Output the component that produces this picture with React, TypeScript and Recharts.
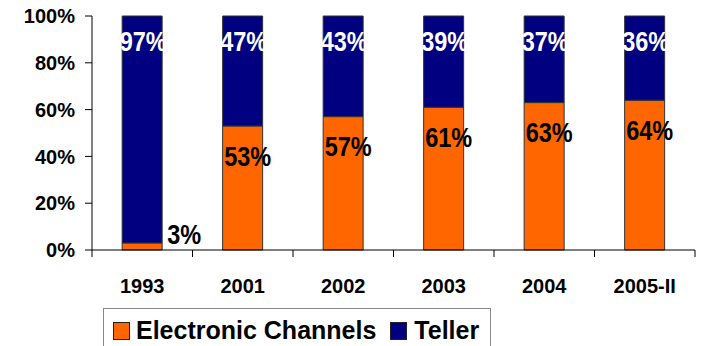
import { BarChart, Bar, XAxis, YAxis, LabelList } from 'recharts';

const years = ['1993', '2001', '2002', '2003', '2004', '2005-II'];
const electronic = [3, 53, 57, 61, 63, 64];
const teller = [97, 47, 43, 39, 37, 36];
const yTicks = [0, 20, 40, 60, 80, 100];

const ORANGE = '#FF6600';
const NAVY = '#000080';
const FONT = '"Liberation Sans", Arial, sans-serif';

const W = 701;
const H = 346;
const LEFT = 92;
const RIGHT = 6;
const BAND = (W - LEFT - RIGHT) / years.length;

const data = years.map((year, i) => ({
  year,
  electronic: electronic[i],
  teller: teller[i],
}));

// condensed bold label, squeezed horizontally like the original
function Narrow({ cx, cy, anchor, fill, children }: any) {
  return (
    <text transform={`translate(${cx},${cy}) scale(0.84,1)`} textAnchor={anchor} dominantBaseline="central"
      fontFamily={FONT} fontWeight="bold" fontSize={28} fill={fill}>
      {children}
    </text>
  );
}

function XTick(props: any) {
  const { x, y, payload, index } = props;
  return (
    <g>
      <line x1={x - BAND / 2} x2={x - BAND / 2} y1={y} y2={y + 7} stroke="#000" />
      {index === years.length - 1 && (
        <line x1={x + BAND / 2} x2={x + BAND / 2} y1={y} y2={y + 7} stroke="#000" />
      )}
      <text x={x} y={y + 43} textAnchor="middle" fontFamily={FONT} fontWeight="bold" fontSize={20} fill="#000">
        {payload.value}
      </text>
    </g>
  );
}

function TellerLabel(props: any) {
  const { x, y, width, value } = props;
  return <Narrow cx={x + width / 2 + 1} cy={y + 25} anchor="middle" fill="#fff">{value}%</Narrow>;
}

function ElectronicLabel(props: any) {
  const { x, y, width, height, value } = props;
  if (height < 20) {
    return <Narrow cx={x + width + 5} cy={y - 9} anchor="start" fill="#000">{value}%</Narrow>;
  }
  return <Narrow cx={x + width / 2 + 5} cy={y + 30} anchor="middle" fill="#000">{value}%</Narrow>;
}

export default function App() {
  return (
    <div style={{ position: 'absolute', left: 0, top: 0, width: W, height: H, background: '#fff' }}>
      <BarChart width={W} height={H} data={data} barCategoryGap="30%"
        margin={{ top: 16, right: RIGHT, left: 0, bottom: 66 }}>
        <XAxis dataKey="year" height={30} axisLine={{ stroke: '#000' }} tickLine={false}
          tickSize={0} tickMargin={0} tick={<XTick />} interval={0} />
        <YAxis width={LEFT} domain={[0, 100]} ticks={yTicks} tickFormatter={(v) => `${v}%`}
          axisLine={{ stroke: '#000' }} tickLine={{ stroke: '#000' }} tickSize={7} tickMargin={10}
          tick={{ fill: '#000', fontFamily: FONT, fontWeight: 'bold', fontSize: 20 }} />
        <Bar dataKey="electronic" stackId="a" fill={ORANGE} stroke="#333" strokeWidth={1} isAnimationActive={false}>
          <LabelList dataKey="electronic" content={<ElectronicLabel />} />
        </Bar>
        <Bar dataKey="teller" stackId="a" fill={NAVY} stroke="#333" strokeWidth={1} isAnimationActive={false}>
          <LabelList dataKey="teller" content={<TellerLabel />} />
        </Bar>
      </BarChart>
      <div style={{
        position: 'absolute', left: 103, top: 308, width: 388, height: 60,
        border: '1px solid #888', boxSizing: 'border-box', background: '#fff',
        display: 'flex', alignItems: 'flex-start', paddingLeft: 9, paddingTop: 8,
        fontFamily: FONT, fontWeight: 'bold', fontSize: 25, color: '#000',
      }}>
        <span style={{ display: 'inline-block', width: 15, height: 16, background: ORANGE, border: '1px solid #222', marginTop: 5 }} />
        <span style={{ marginLeft: 6, lineHeight: '26px' }}>Electronic Channels</span>
        <span style={{ display: 'inline-block', width: 15, height: 16, background: NAVY, border: '1px solid #222', marginTop: 5, marginLeft: 14 }} />
        <span style={{ marginLeft: 7, lineHeight: '26px' }}>Teller</span>
      </div>
    </div>
  );
}
